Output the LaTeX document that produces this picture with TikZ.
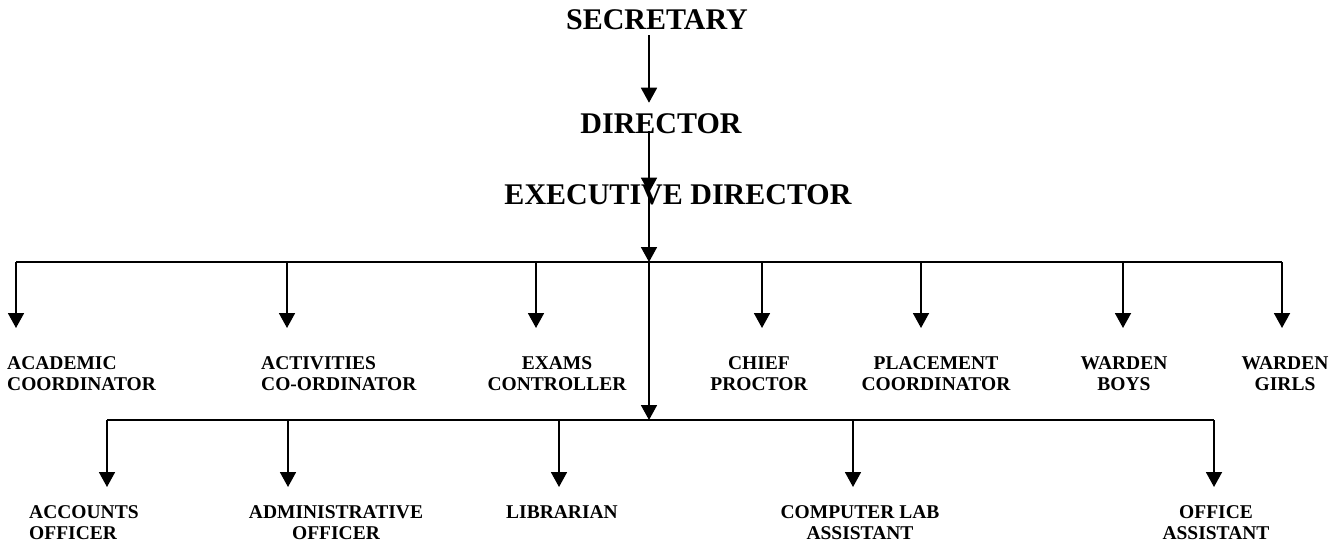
\documentclass[tikz,border=0pt]{standalone}
\usepackage{fontspec}
\setmainfont{Liberation Serif}
\usetikzlibrary{arrows.meta}
\tikzset{
  conn/.style={line width=1.8pt, -{Triangle[width=16pt,length=15pt]}},
  busline/.style={line width=1.8pt},
  big/.style={inner sep=0pt, font=\fontsize{30}{33}\selectfont\bfseries},
  lab/.style={inner sep=0pt, align=center, font=\fontsize{19.5}{21}\selectfont\bfseries},
  labl/.style={lab, align=left, anchor=west},
}
\begin{document}
\begin{tikzpicture}[x=1pt,y=-1pt]
\useasboundingbox (0,0) rectangle (1335,546);
% top chain
\node[big] (sec) at (657,20) {SECRETARY};
\node[big] (dir) at (661,124) {DIRECTOR};
\node[big] (ed) at (678,195) {EXECUTIVE DIRECTOR};
\coordinate (trunk) at (649,0);
\coordinate (b1) at (649,262);
\coordinate (b2) at (649,420);
\coordinate (tip1) at (0,328);
\coordinate (tip2) at (0,487);
\draw[conn, shorten <=5pt, shorten >=11pt] (sec.south -| trunk) -- (dir.north -| trunk);
\draw[conn, shorten <=-3pt, shorten >=-8pt] (dir.south -| trunk) -- (ed.north -| trunk);
\draw[conn] (ed.north -| trunk) -- (b1);
\draw[conn] (b1) -- (b2);
% first row
\node[labl] (acad) at (7,373.5) {ACADEMIC\\COORDINATOR};
\node[labl] (act) at (261,373.5) {ACTIVITIES\\CO-ORDINATOR};
\node[lab] (exam) at (557,373.5) {EXAMS\\CONTROLLER};
\node[lab] (proc) at (759,373.5) {CHIEF\\PROCTOR};
\node[lab] (plac) at (936,373.5) {PLACEMENT\\COORDINATOR};
\node[lab] (wb) at (1124,373.5) {WARDEN\\BOYS};
\node[lab] (wg) at (1285,373.5) {WARDEN\\GIRLS};
\coordinate (d1) at (16,262);
\coordinate (d2) at (287,262);
\coordinate (d3) at (536,262);
\coordinate (d4) at (762,262);
\coordinate (d5) at (921,262);
\coordinate (d6) at (1123,262);
\coordinate (d7) at (1282,262);
\draw[busline] (d1) -- (d7);
\foreach \d in {d1,d2,d3,d4,d5,d6,d7}
  \draw[conn] (\d) -- (\d |- tip1);
% second row
\node[labl] (acc) at (29,522.5) {ACCOUNTS\\OFFICER};
\node[lab] (adm) at (336,522.5) {ADMINISTRATIVE\\OFFICER};
\node[lab] (lib) at (562,512) {LIBRARIAN};
\node[lab] (cla) at (860,522.5) {COMPUTER LAB\\ASSISTANT};
\node[lab] (oa) at (1216,522.5) {OFFICE\\ASSISTANT};
\coordinate (e1) at (107,420);
\coordinate (e2) at (288,420);
\coordinate (e3) at (559,420);
\coordinate (e4) at (853,420);
\coordinate (e5) at (1214,420);
\draw[busline] (e1) -- (e5);
\foreach \d in {e1,e2,e3,e4,e5}
  \draw[conn] (\d) -- (\d |- tip2);
\end{tikzpicture}
\end{document}
